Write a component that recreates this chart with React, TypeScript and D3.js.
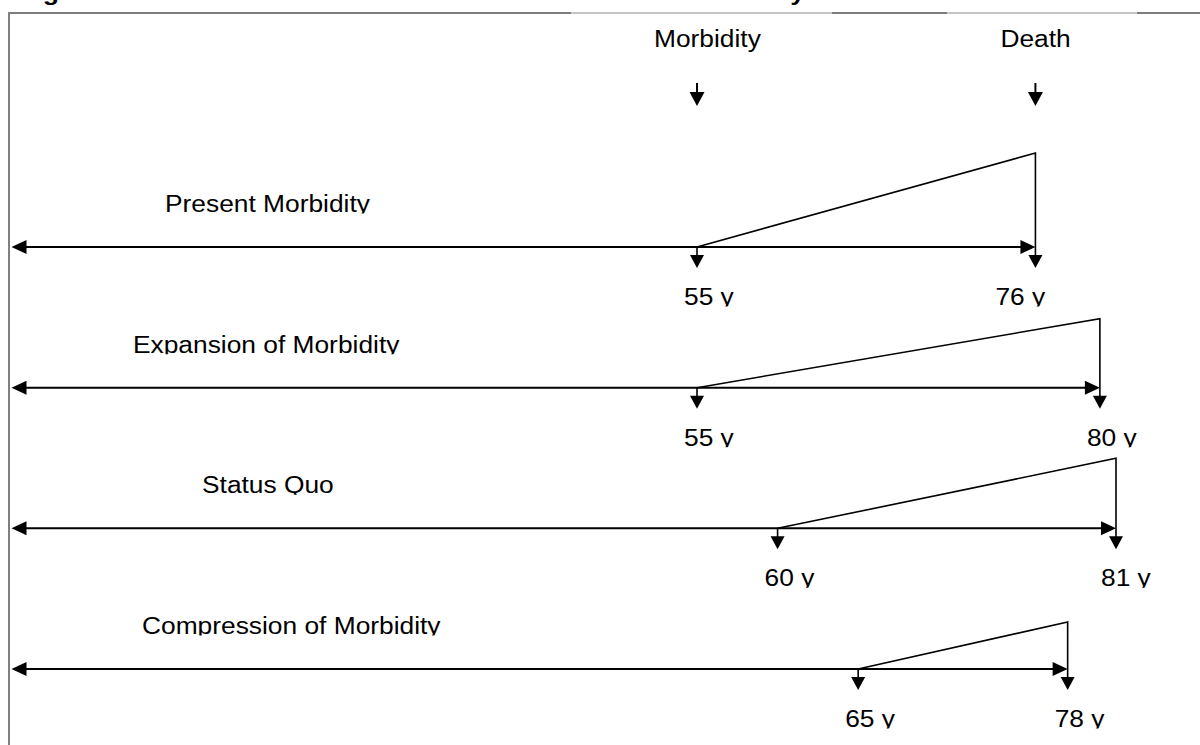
import React from 'react';
import * as d3 from 'd3';

// scenario rows, ages
const scenarios = ['Present Morbidity', 'Expansion of Morbidity', 'Status Quo', 'Compression of Morbidity'];
const onsetAges = [55, 55, 60, 65];
const deathAges = [76, 80, 81, 78];
const morbidityLoad = [94, 69, 70, 47]; // height of the wedge (relative)
const headerLabels = ['Morbidity', 'Death'];
const titleText = 'Figure 1: Three Alternative Theories of the Future of Morbidity';

// layout
const W = 1200;
const H = 745;
const FONT = '"Liberation Sans", Arial, Helvetica, sans-serif';
const STRETCH = 1.145;
const rowLabelLeft = [165, 133, 202, 142];
const deathLabelDx = [-40, -13, -15, -13];
const frameSegments: Array<[number, number, string]> = [
  [9, 571, '#7d7d7d'],
  [571, 832, '#c4c4c4'],
  [832, 947, '#7d7d7d'],
  [947, 1137, '#c4c4c4'],
  [1137, 1200, '#7d7d7d'],
];

const x = d3.scaleLinear().domain([55, 81]).range([697, 1116]);
const y = d3.scalePoint<string>().domain(scenarios).range([247, 669]);
const h = d3.scaleLinear().domain([0, 100]).range([0, 100]);
const line = d3.line<[number, number]>();

const downHead = (cx: number, top: number, len = 13, half = 7) =>
  line([[cx - half, top], [cx + half, top], [cx, top + len]]) + 'Z';
const rightHead = (tip: number, cy: number, len = 15, half = 7) =>
  line([[tip - len, cy - half], [tip - len, cy + half], [tip, cy]]) + 'Z';
const leftHead = (tip: number, cy: number, len = 15, half = 7) =>
  line([[tip + len, cy - half], [tip + len, cy + half], [tip, cy]]) + 'Z';

function Txt(props: { x: number; y: number; text: string; clip?: string }) {
  return (
    <g clipPath={props.clip ? `url(#${props.clip})` : undefined}>
      <text
        transform={`translate(${props.x},${props.y}) scale(${STRETCH},1)`}
        fontFamily={FONT}
        fontSize={23}
        fill="#000"
      >
        {props.text}
      </text>
    </g>
  );
}

export default function App() {
  const leftTip = 11.5;
  const headerX = [x(onsetAges[0]), x(deathAges[0])];

  const clips: Array<{ id: string; base: number }> = [];
  scenarios.forEach((s, i) => {
    const ly = y(s) as number;
    clips.push({ id: `name${i}`, base: ly - 35 });
    clips.push({ id: `age${i}`, base: ly + 58 });
  });

  return (
    <svg
      width={W}
      height={H}
      style={{ position: 'absolute', left: 0, top: 0, display: 'block', background: '#fff' }}
    >
      <defs>
        {clips.map(c => (
          <clipPath key={c.id} id={c.id}>
            <rect x={0} y={c.base - 30} width={W} height={31.5} />
          </clipPath>
        ))}
      </defs>

      {/* title, cut off above the page: only descenders show */}
      <text
        x={19}
        y={-0.4}
        fontFamily={FONT}
        fontWeight="bold"
        fontSize={22}
        textLength={786}
        lengthAdjust="spacingAndGlyphs"
      >
        {titleText}
      </text>

      {/* frame */}
      {frameSegments.map(([a, b, c], i) => (
        <line key={i} x1={a} x2={b} y1={13} y2={13} stroke={c} strokeWidth={2} />
      ))}
      <line x1={9} x2={9} y1={12} y2={H} stroke="#808080" strokeWidth={2} />

      {/* header markers */}
      {headerLabels.map((lab, i) => {
        const hx = headerX[i];
        const tw = i === 0 ? -43 : -35;
        return (
          <g key={lab}>
            <Txt x={hx + tw} y={47} text={lab} />
            <line x1={hx} x2={hx} y1={83} y2={93} stroke="#000" strokeWidth={2} />
            <path d={downHead(hx, 92, 14, 7.5)} fill="#000" />
          </g>
        );
      })}

      {scenarios.map((s, i) => {
        const ly = y(s) as number;
        const mx = x(onsetAges[i]);
        const dx = x(deathAges[i]);
        const top = ly - h(morbidityLoad[i]);
        return (
          <g key={s}>
            <Txt x={rowLabelLeft[i]} y={ly - 35} text={s} clip={`name${i}`} />

            {/* life line */}
            <line x1={leftTip + 4} x2={dx - 4} y1={ly} y2={ly} stroke="#000" strokeWidth={2} />
            <path d={leftHead(leftTip, ly)} fill="#000" />
            <path d={rightHead(dx, ly)} fill="#000" />

            {/* morbidity wedge */}
            <path
              d={line([[mx, ly], [dx, top], [dx, ly + 9]]) as string}
              fill="none"
              stroke="#000"
              strokeWidth={1.6}
            />
            <line x1={mx} x2={mx} y1={ly} y2={ly + 9} stroke="#000" strokeWidth={1.6} />
            <path d={downHead(mx, ly + 8)} fill="#000" />
            <path d={downHead(dx, ly + 8)} fill="#000" />

            {/* ages */}
            <Txt x={mx - 13} y={ly + 58} text={`${onsetAges[i]} y`} clip={`age${i}`} />
            <Txt x={dx + deathLabelDx[i]} y={ly + 58} text={`${deathAges[i]} y`} clip={`age${i}`} />
          </g>
        );
      })}
    </svg>
  );
}
